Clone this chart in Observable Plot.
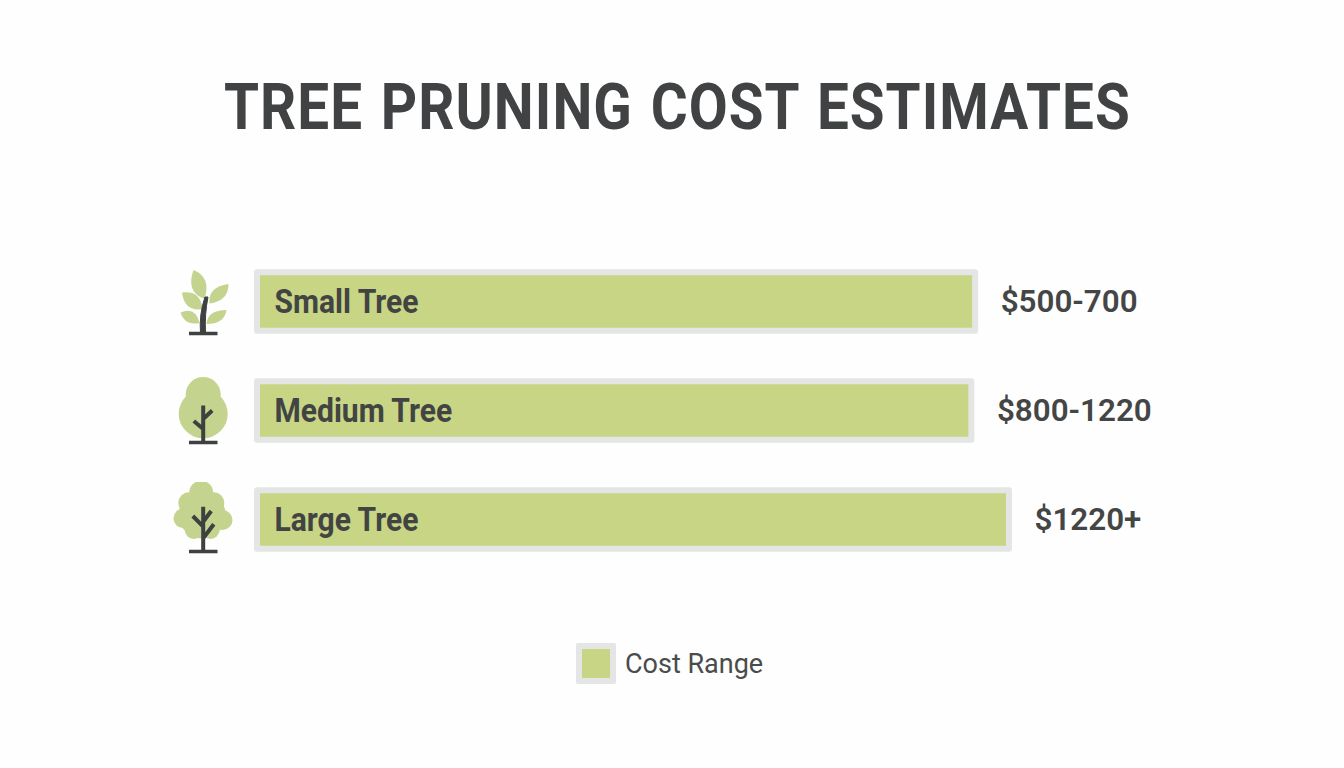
<!DOCTYPE html>
<html><head><meta charset="utf-8">
<script src="https://cdn.jsdelivr.net/npm/d3@7"></script>
<script src="https://cdn.jsdelivr.net/npm/@observablehq/plot@0.6"></script>
<style>
html,body{margin:0;padding:0;background:#fdfefd;width:1344px;height:768px;overflow:hidden}
#title{height:170px;width:1344px;position:relative}
#title div{position:absolute;left:224px;top:67px;font:700 65px/80px "Roboto",sans-serif;color:#404244;letter-spacing:1.2px;word-spacing:3px;white-space:nowrap;transform:scaleX(0.87);transform-origin:left center}
#chart{height:420px;width:1344px}
#chart svg{display:block;background:transparent}
#legend{position:absolute;left:576px;top:643px;display:flex;align-items:center}
#swatch{width:28px;height:29px;background:#c7d585;border:6px solid #e4e6e6;border-radius:2px}
#legend span{margin-left:9px;font:400 27px/41px "Roboto",sans-serif;color:#4a4c4c;position:relative;top:1px}
</style></head><body>
<div id="title"><div>TREE PRUNING COST ESTIMATES</div></div>
<div id="chart"></div>
<div id="legend"><div id="swatch"></div><span>Cost Range</span></div>
<script>
const categories = ["Small Tree", "Medium Tree", "Large Tree"];
const barLengths = [95.5, 95.0, 100];
const rangeLabels = ["$500-700", "$800-1220", "$1220+"];

const leaf = "#c4d48e", ink = "#3f4040";
const wrap = b => "data:image/svg+xml;utf8," + encodeURIComponent(
  `<svg xmlns="http://www.w3.org/2000/svg" width="64" height="76" viewBox="0 0 64 76">${b}</svg>`);
const wood = d => `<path d="${d}" fill="none" stroke="${ink}" stroke-width="4"/>`;
const base = `<path d="M17.5 69.5H46" stroke="${ink}" stroke-width="3.4"/>`;
const circles = a => a.map(([x,y,r]) => `<circle cx="${x}" cy="${y}" r="${r}" fill="${leaf}"/>`).join("");
const smallIcon = wrap(
  `<g fill="${leaf}">
   <path d="M22 6Q40 13 33 35Q14 28 22 6Z"/>
   <path d="M57 20Q57 37 38 39.5Q36 23 57 20Z"/>
   <path d="M10.5 28.5Q29 26 31 45Q13 48 10.5 28.5Z"/>
   <path d="M9 48.5Q24 42 28 59Q13 62 9 48.5Z"/>
   <path d="M55 46Q53 60 35 60Q36 46 55 46Z"/></g>
   <path d="M29 69.5L34 69.5Q33 50 36.5 33L33.5 33Q27.5 50 29 69.5Z" fill="${ink}" stroke="${ink}" stroke-width="1"/>` + base);
const mediumIcon = wrap(
  circles([[31.7,21.5,17.5],[31.7,40.8,24.5]]) +
  wood("M31.7 32.5V69M31.7 46L40.7 37.5M31.7 56L22.3 48") + base);
const largeIcon = wrap(
  circles([[29.7,10.8,12],[17.3,20.8,10.5],[42.3,20.8,10.5],[30.7,33,23.5],[12,36.3,10],[51,38,10],[22.3,48,9],[39,48,9]]) +
  wood("M31.7 24.7V68.5M31.7 39.7L39.7 29M31.7 44.7L21.3 34M31.7 56.3L42.3 42.3") + base);
const icons = [smallIcon, mediumIcon, largeIcon];

const rows = categories.map((c,i) => ({c, v: barLengths[i], r: rangeLabels[i], icon: icons[i]}));

const plot = Plot.plot({
  width: 1344, height: 420,
  marginTop: 0, marginRight: 0, marginBottom: 0, marginLeft: 0,
  style: {background: "transparent", overflow: "visible"},
  x: {domain: [0, 100], range: [257, 1009], axis: null},
  y: {type: "band", domain: categories, range: [76.25, 404.75], padding: 0, axis: null},
  marks: [
    Plot.barX(rows, {x: "v", y: "c", fill: "#c7d585", stroke: "#e4e6e6", strokeWidth: 6,
      insetTop: 25.25, insetBottom: 25.25, strokeLinejoin: "round"}),
    Plot.text(rows, {x: 0, y: "c", text: "c", textAnchor: "start", dx: 17, className: "cat",
      fontFamily: "Roboto, sans-serif", fontWeight: 700, fontSize: 33, fill: "#424444"}),
    Plot.text(rows, {x: "v", y: "c", text: "r", textAnchor: "start", dx: 25, dy: 0, className: "val",
      fontFamily: "Roboto, sans-serif", fontWeight: 600, fontSize: 32, fill: "#444646"}),
    Plot.image(rows, {y: "c", src: "icon", frameAnchor: "left", dx: 203, dy: 0, width: 64, height: 76})
  ]
});
document.getElementById("chart").append(plot);
// the reference's labels are set in a condensed face: narrow Roboto to match
d3.selectAll(".cat text").each(function () {
  this.setAttribute("textLength", this.getComputedTextLength() * 0.91);
  this.setAttribute("lengthAdjust", "spacingAndGlyphs");
});
d3.selectAll(".val text").each(function () {
  this.setAttribute("textLength", this.getComputedTextLength() * 0.98);
  this.setAttribute("lengthAdjust", "spacingAndGlyphs");
});
</script>
</body></html>
